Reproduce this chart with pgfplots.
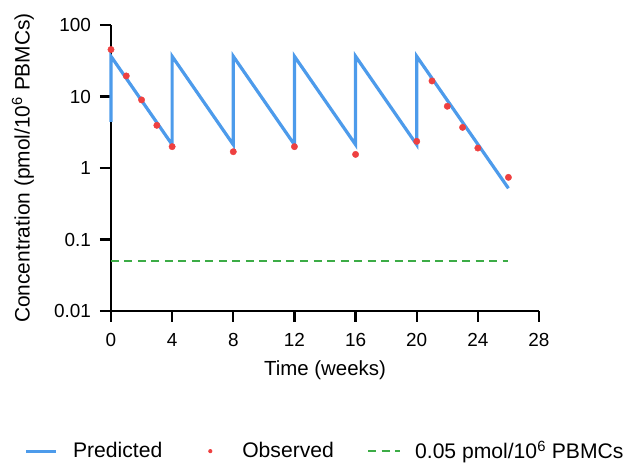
\documentclass[border=0pt]{standalone}
\usepackage{fontspec}
\setmainfont{Liberation Sans}
\usepackage{pgfplots}
\pgfplotsset{compat=1.18}
\definecolor{predblue}{RGB}{77,155,235}
\definecolor{obsred}{RGB}{238,64,64}
\definecolor{refgreen}{RGB}{60,172,70}
\begin{document}
\fontsize{20.5}{24}\selectfont
\begin{tikzpicture}
\path[use as bounding box] (-111bp,-152bp) rectangle (513bp,311bp);
\begin{axis}[
  at={(0,0)}, anchor=south west,
  scale only axis, width=428bp, height=286bp,
  ymode=log, xmin=0, xmax=28, ymin=0.01, ymax=100,
  axis lines=left,
  axis line style={-, line width=2.4bp},
  xtick={0,4,...,28},
  xticklabels={0,4,8,12,16,20,24,28},
  ytick={0.01,0.1,1,10,100},
  yticklabels={0.01,0.1,1,10,100},
  yminorticks=false,
  tick style={line width=2.4bp, black},
  major tick length=11bp, tick align=outside,
  tick label style={font=\fontsize{19}{22}\selectfont},
  yticklabel style={xshift=-2bp},
  xticklabel style={yshift=-4bp},
  label style={font=\fontsize{20.5}{24}\selectfont},
  xlabel={Time (weeks)},
  ylabel={Concentration (pmol/10\textsuperscript{6} PBMCs)},
  xlabel style={at={(axis description cs:0.5,-0.207)}, anchor=center},
  ylabel style={at={(axis description cs:-0.2056,0.5)}, anchor=center, font=\fontsize{21}{24}\selectfont},
  clip=false,
  legend columns=3,
  legend style={at={(0.5,-0.49)}, anchor=center, draw=none,
    font=\fontsize{21.2}{24}\selectfont,
    /tikz/every even column/.append style={column sep=31bp}},
  legend cell align=left,
]
\addplot[predblue, line width=3.2bp, line join=miter,
  legend image code/.code={\draw[predblue, line width=3bp] (0bp,0bp) -- (30bp,0bp); \path[draw=none] (0bp,0bp) -- (45bp,0bp);}]
  coordinates {(0,4.4) (0,36.5) (4,2.12) (4,36.5) (8,2.12) (8,36.5) (12,2.12) (12,36.5) (16,2.12) (16,36.5) (20,2.12) (20,36.5) (26,0.52)};
\addlegendentry{Predicted}
\addplot[color=obsred, only marks, mark=*, mark size=3.2bp, mark options={fill=obsred, draw=none},
  legend image code/.code={\fill[obsred, draw=none] (15bp,0bp) circle (2.1bp); \path[draw=none] (0bp,0bp) -- (45bp,0bp);}]
  coordinates {(0,45.4) (1,19.4) (2,8.96) (3,3.95) (4,1.99) (8,1.69) (12,1.99) (16,1.55) (20,2.36) (21,16.5) (22,7.3) (23,3.7) (24,1.9) (26,0.74)};
\addlegendentry{Observed}
\addplot[refgreen, line width=2.6bp, dash pattern=on 8bp off 5.5bp,
  legend image code/.code={\draw[refgreen, line width=2.6bp, dash pattern=on 8bp off 5.5bp] (0bp,0bp) -- (32bp,0bp); \path[draw=none] (0bp,0bp) -- (45bp,0bp);}]
  coordinates {(0,0.05) (26,0.05)};
\addlegendentry{0.05 pmol/10\textsuperscript{6} PBMCs}
\end{axis}
\end{tikzpicture}
\end{document}
